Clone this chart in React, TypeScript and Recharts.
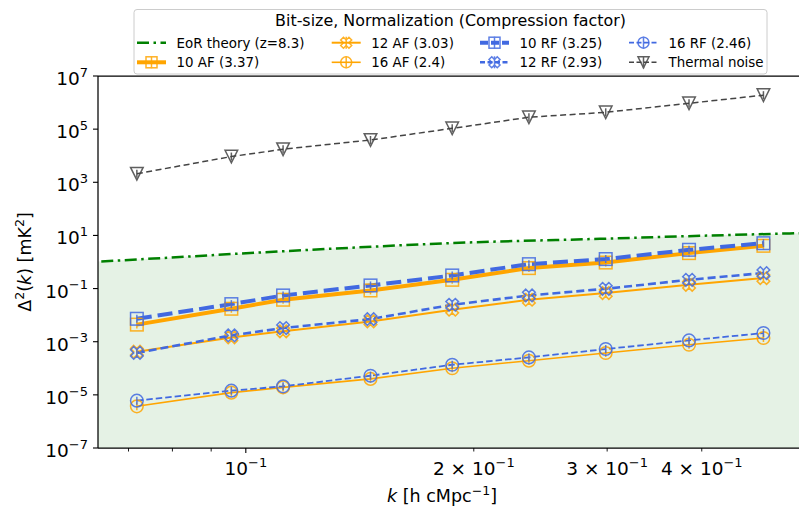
import React from "react";
import { ComposedChart, Line, Area, XAxis, YAxis, ReferenceLine } from "recharts";

// k bins [h cMpc^-1]
const kBins = [0.0718, 0.0957, 0.112, 0.1461, 0.1873, 0.2365, 0.2987, 0.3848, 0.4825];

const af10 = [4.4e-3, 0.0174, 0.038, 0.085, 0.214, 0.59, 0.955, 2.16, 4.07];
const rf10 = [7.3e-3, 0.026, 0.055, 0.131, 0.311, 0.83, 1.29, 2.88, 5.1];
const af12 = [4.2e-4, 1.45e-3, 2.46e-3, 5.8e-3, 0.016, 0.038, 0.068, 0.139, 0.248];
const rf12 = [3.8e-4, 1.73e-3, 3.27e-3, 7.1e-3, 0.0246, 0.055, 0.098, 0.214, 0.383];
const af16 = [3.7e-6, 1.21e-5, 1.91e-5, 3.98e-5, 1.0e-4, 1.93e-4, 3.76e-4, 7.7e-4, 1.38e-3];
const rf16 = [6.05e-6, 1.44e-5, 2.09e-5, 5.27e-5, 1.36e-4, 2.57e-4, 5.3e-4, 1.12e-3, 2.12e-3];
const thermal = [2.1e3, 9.3e3, 1.75e4, 3.9e4, 1.07e5, 2.8e5, 4.3e5, 9.4e5, 1.9e6];

// EoR theory curve
const eorK = [0.06, 0.0637, 0.0818, 0.1043, 0.1372, 0.186, 0.2936, 0.3978, 0.5376, 0.56];
const eorV = [0.97, 1.04, 1.54, 2.28, 3.42, 5.13, 7.45, 9.66, 12.2, 12.6];

const xTicks = [0.07, 0.08, 0.09, 0.1, 0.2, 0.3, 0.4];
const xLabels: Record<string, [string, string]> = {
  "0.1": ["10", "−1"],
  "0.2": ["2 × 10", "−1"],
  "0.3": ["3 × 10", "−1"],
  "0.4": ["4 × 10", "−1"],
};
const yTicks = [1e-7, 1e-5, 1e-3, 1e-1, 1e1, 1e3, 1e5, 1e7];
const yLabels = ["−7", "−5", "−3", "−1", "1", "3", "5", "7"];

const ORANGE = "#ffa500";
const BLUE = "#4169e1";
const GRAY = "#444444";
const FONT = "DejaVu Sans";

const toPts = (vals: number[]) => vals.map((v, i) => ({ k: kBins[i], v }));
const eorData = eorK.map((k, i) => ({ k, v: eorV[i] }));

type Shape = "square" | "x" | "circle" | "tri";

function Marker({ shape, cx, cy, color, r = 6.3, err = 4 }: { shape: Shape; cx: number; cy: number; color: string; r?: number; err?: number }) {
  const sw = 1.5;
  let body: React.ReactNode = null;
  if (shape === "square") {
    body = <rect x={cx - r} y={cy - r} width={2 * r} height={2 * r} fill="none" stroke={color} strokeWidth={sw} />;
  } else if (shape === "circle") {
    body = <circle cx={cx} cy={cy} r={r} fill="none" stroke={color} strokeWidth={sw} />;
  } else if (shape === "tri") {
    body = <polygon points={`${cx - r},${cy - r} ${cx + r},${cy - r} ${cx},${cy + r}`} fill="none" stroke={color} strokeWidth={sw} strokeLinejoin="miter" />;
  } else {
    const v = [
      [0.25, 0], [0.5, 0.25], [0.75, 0], [1, 0.25], [0.75, 0.5], [1, 0.75],
      [0.75, 1], [0.5, 0.75], [0.25, 1], [0, 0.75], [0.25, 0.5], [0, 0.25],
    ];
    const s = 2 * r;
    body = <polygon points={v.map(([u, w]) => `${cx + (u - 0.5) * s},${cy + (w - 0.5) * s}`).join(" ")} fill="none" stroke={color} strokeWidth={sw} />;
  }
  return (
    <g opacity={0.85}>
      {body}
      <line x1={cx} x2={cx} y1={cy - err} y2={cy + err} stroke={color} strokeWidth={sw} />
    </g>
  );
}

const dotFn = (shape: Shape, color: string) => (p: any) =>
  <Marker key={`${shape}-${color}-${p.index}`} shape={shape} cx={p.cx} cy={p.cy} color={color} />;

function XTick(props: any) {
  const { x, y, payload } = props;
  const lab = xLabels[String(payload.value)];
  const major = payload.value === 0.1;
  return (
    <g>
      <line x1={x} x2={x} y1={y} y2={y + (major ? 5 : 3.5)} stroke="#000" strokeWidth={major ? 1.1 : 0.9} />
      {lab && (
        <text x={x} y={y + 27} textAnchor="middle" fontFamily={FONT} fontSize={18.5} fill="#000">
          <tspan>{lab[0]}</tspan>
          <tspan dy={-8} fontSize={13}>{lab[1]}</tspan>
        </text>
      )}
    </g>
  );
}

function YTick(props: any) {
  const { x, y, index } = props;
  return (
    <g>
      <line x1={x - 5} x2={x} y1={y} y2={y} stroke="#000" strokeWidth={1.1} />
      <text x={x - 10} y={y + 9} textAnchor="end" fontFamily={FONT} fontSize={18.5} fill="#000">
        <tspan>10</tspan>
        <tspan dy={-8.3} fontSize={13}>{yLabels[index]}</tspan>
      </text>
    </g>
  );
}

const legendItems: { label: string; col: number; row: number; color: string; width: number; dash?: string; marker?: Shape }[] = [
  { label: "EoR theory (z=8.3)", col: 0, row: 0, color: "green", width: 2.5, dash: "12 4.5 2.5 4.5" },
  { label: "10 AF (3.37)", col: 0, row: 1, color: ORANGE, width: 4, marker: "square" },
  { label: "12 AF (3.03)", col: 1, row: 0, color: ORANGE, width: 2, marker: "x" },
  { label: "16 AF (2.4)", col: 1, row: 1, color: ORANGE, width: 1.6, marker: "circle" },
  { label: "10 RF (3.25)", col: 2, row: 0, color: BLUE, width: 4, dash: "8 3", marker: "square" },
  { label: "12 RF (2.93)", col: 2, row: 1, color: BLUE, width: 2.6, dash: "5 2.5", marker: "x" },
  { label: "16 RF (2.46)", col: 3, row: 0, color: BLUE, width: 1.8, dash: "5 2.5", marker: "circle" },
  { label: "Thermal noise", col: 3, row: 1, color: GRAY, width: 1.5, dash: "5 2.5", marker: "tri" },
];
const colX = [137, 331.7, 480, 629];
const rowY = [42.7, 62.3];

function Overlay() {
  return (
    <svg width={799} height={508} style={{ position: "absolute", left: 0, top: 0, pointerEvents: "none" }}>
      <rect x={134} y={9.5} width={633} height={64.5} rx={3} fill="#fff" fillOpacity={0.8} stroke="#cccccc" strokeWidth={1} />
      <text x={450.5} y={26} textAnchor="middle" fontFamily={FONT} fontSize={15.9} fill="#000">
        Bit-size, Normalization (Compression factor)
      </text>
      {legendItems.map((it) => {
        const x0 = colX[it.col];
        const y0 = rowY[it.row];
        return (
          <g key={it.label}>
            <line x1={x0} x2={x0 + 29} y1={y0} y2={y0} stroke={it.color} strokeWidth={it.width} strokeDasharray={it.dash} />
            {it.marker && <Marker shape={it.marker} cx={x0 + 14.5} cy={y0} color={it.color} r={5.5} err={6} />}
            <text x={x0 + 39.5} y={y0 + 4.8} fontFamily={FONT} fontSize={13.4} fill="#000">
              {it.label}
            </text>
          </g>
        );
      })}
      <text transform="translate(31,262) rotate(-90)" textAnchor="middle" fontFamily={FONT} fontSize={17.5} fill="#000">
        <tspan>Δ</tspan>
        <tspan dy={-7} fontSize={12.5}>2</tspan>
        <tspan dy={7}>(</tspan>
        <tspan fontStyle="italic">k</tspan>
        <tspan>) [mK</tspan>
        <tspan dy={-7} fontSize={12.5}>2</tspan>
        <tspan dy={7}>]</tspan>
      </text>
      <text x={442} y={502} textAnchor="middle" fontFamily={FONT} fontSize={17.5} fill="#000">
        <tspan fontStyle="italic">k</tspan>
        <tspan> [h cMpc</tspan>
        <tspan dy={-7} fontSize={12.5}>−1</tspan>
        <tspan dy={7}>]</tspan>
      </text>
    </svg>
  );
}

export default function App() {
  return (
    <div style={{ position: "fixed", left: 0, top: 0, width: 799, height: 508, background: "#fff", overflow: "hidden" }}>
      <ComposedChart width={799} height={508} margin={{ top: 76, right: 0, bottom: 0, left: 0 }}>
        <XAxis
          type="number"
          dataKey="k"
          scale="log"
          domain={[0.0638, 0.5376]}
          allowDataOverflow
          ticks={xTicks}
          interval={0}
          tick={<XTick />}
          tickLine={false}
          tickSize={0}
          tickMargin={0}
          height={60}
          axisLine={{ stroke: "#000", strokeWidth: 1.25 }}
        />
        <YAxis
          type="number"
          dataKey="v"
          scale="log"
          domain={[1e-7, 1e7]}
          allowDataOverflow
          ticks={yTicks}
          interval={0}
          tick={<YTick />}
          tickLine={false}
          tickSize={0}
          tickMargin={0}
          width={98}
          axisLine={{ stroke: "#000", strokeWidth: 1.25 }}
        />
        <ReferenceLine y={1e7} stroke="#000" strokeWidth={1.25} />
        <Area
          data={eorData}
          dataKey="v"
          type="monotone"
          baseValue="dataMin"
          stroke="green"
          strokeWidth={2.5}
          strokeDasharray="12 4.5 2.5 4.5"
          fill="green"
          fillOpacity={0.1}
          dot={false}
          activeDot={false}
          isAnimationActive={false}
        />
        <Line data={toPts(af10)} dataKey="v" type="linear" stroke={ORANGE} strokeWidth={4} dot={dotFn("square", ORANGE)} activeDot={false} isAnimationActive={false} />
        <Line data={toPts(af12)} dataKey="v" type="linear" stroke={ORANGE} strokeWidth={2} dot={dotFn("x", ORANGE)} activeDot={false} isAnimationActive={false} />
        <Line data={toPts(af16)} dataKey="v" type="linear" stroke={ORANGE} strokeWidth={1.6} dot={dotFn("circle", ORANGE)} activeDot={false} isAnimationActive={false} />
        <Line data={toPts(rf10)} dataKey="v" type="linear" stroke={BLUE} strokeWidth={4} strokeDasharray="15 6" dot={dotFn("square", BLUE)} activeDot={false} isAnimationActive={false} />
        <Line data={toPts(rf12)} dataKey="v" type="linear" stroke={BLUE} strokeWidth={2.6} strokeDasharray="8 4" dot={dotFn("x", BLUE)} activeDot={false} isAnimationActive={false} />
        <Line data={toPts(rf16)} dataKey="v" type="linear" stroke={BLUE} strokeWidth={1.8} strokeDasharray="6.5 3" dot={dotFn("circle", BLUE)} activeDot={false} isAnimationActive={false} />
        <Line data={toPts(thermal)} dataKey="v" type="linear" stroke={GRAY} strokeWidth={1.5} strokeDasharray="6 3.5" dot={dotFn("tri", GRAY)} activeDot={false} isAnimationActive={false} />
      </ComposedChart>
      <Overlay />
    </div>
  );
}
